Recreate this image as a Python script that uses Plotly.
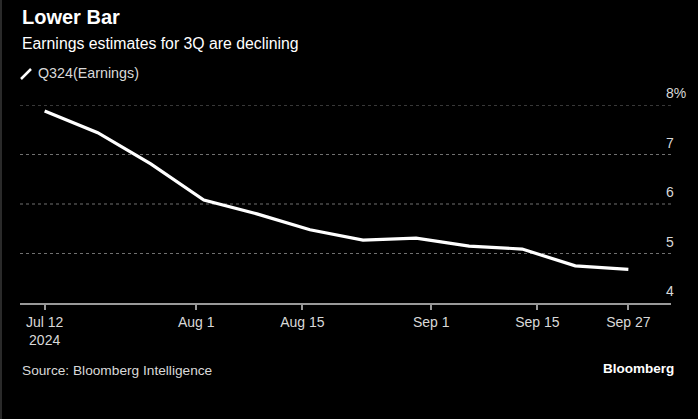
import plotly.graph_objects as go

dates = ["2024-07-12", "2024-07-19", "2024-07-26", "2024-08-02", "2024-08-09", "2024-08-16",
         "2024-08-23", "2024-08-30", "2024-09-06", "2024-09-13", "2024-09-20", "2024-09-27"]
earnings = [7.88, 7.44, 6.81, 6.08, 5.80, 5.48, 5.27, 5.31, 5.15, 5.09, 4.75, 4.68]

x_tickvals = ["2024-07-12", "2024-08-01", "2024-08-15", "2024-09-01", "2024-09-15", "2024-09-27"]
x_ticktext = ["Jul 12<br>2024", "Aug 1", "Aug 15", "Sep 1", "Sep 15", "Sep 27"]
y_tickvals = [4, 5, 6, 7, 8]
y_ticktext = ["4", "5", "6", "7", "8%"]

FONT = "Liberation Sans"
GREY = "#d9d9d9"
W, H = 698, 419
ML, MR, MT, MB = 20, 27, 105, 116


def paper_xy(px, py):
    # pixel position on the page -> paper coordinates
    return (px - ML) / (W - ML - MR), (H - MB - py) / (H - MT - MB)


fig = go.Figure()
fig.add_trace(go.Scatter(x=dates, y=earnings, mode="lines", name="Q324(Earnings)",
                         line=dict(color="white", width=3.2), showlegend=False))

# dotted gridlines (not at the baseline)
for v in y_tickvals[1:]:
    fig.add_shape(type="line", xref="paper", x0=0, x1=1, yref="y", y0=v, y1=v,
                  line=dict(color="#707070", width=1, dash="dot"), layer="below")

# y labels on the right, sitting above the gridlines
for v, t in zip(y_tickvals, y_ticktext):
    fig.add_annotation(x=1, xref="paper", xanchor="left", xshift=-7, y=v, yref="y",
                       yanchor="bottom", yshift=2, text=t, showarrow=False,
                       font=dict(family=FONT, size=14, color=GREY))

fig.update_layout(
    width=W, height=H,
    paper_bgcolor="black", plot_bgcolor="black",
    margin=dict(l=ML, r=MR, t=MT, b=MB),
    font=dict(family=FONT, color=GREY),
    xaxis=dict(type="date", range=["2024-07-08 18:00", "2024-10-02 15:00"],
               tickvals=x_tickvals, ticktext=x_ticktext, showgrid=False, zeroline=False,
               showline=True, linecolor="#999999", linewidth=1.5,
               ticks="outside", ticklen=5, tickcolor="#999999", tickwidth=1.5,
               tickfont=dict(family=FONT, size=14, color=GREY)),
    yaxis=dict(range=[4, 8], showgrid=False, zeroline=False, showticklabels=False,
               fixedrange=True),
)

# title, subtitle, legend, footer
ax, ay = paper_xy(20, 17)
fig.add_annotation(x=ax, y=ay, xref="paper", yref="paper", text="<b>Lower Bar</b>",
                   showarrow=False, xanchor="left", yanchor="middle",
                   font=dict(family=FONT, size=20, color="white"))
ax, ay = paper_xy(20, 44)
fig.add_annotation(x=ax, y=ay, xref="paper", yref="paper",
                   text="Earnings estimates for 3Q are declining",
                   showarrow=False, xanchor="left", yanchor="middle",
                   font=dict(family=FONT, size=15.8, color="white"))
lx0, ly0 = paper_xy(21, 79)
lx1, ly1 = paper_xy(31, 69)
fig.add_shape(type="line", xref="paper", yref="paper", x0=lx0, y0=ly0, x1=lx1, y1=ly1,
              line=dict(color="white", width=2.5))
ax, ay = paper_xy(36, 73)
fig.add_annotation(x=ax, y=ay, xref="paper", yref="paper", text="Q324(Earnings)",
                   showarrow=False, xanchor="left", yanchor="middle",
                   font=dict(family=FONT, size=14.3, color=GREY))
ax, ay = paper_xy(20, 370)
fig.add_annotation(x=ax, y=ay, xref="paper", yref="paper",
                   text="Source: Bloomberg Intelligence",
                   showarrow=False, xanchor="left", yanchor="middle",
                   font=dict(family=FONT, size=13.7, color=GREY))
ax, ay = paper_xy(676, 368)
fig.add_annotation(x=ax, y=ay, xref="paper", yref="paper", text="<b>Bloomberg</b>",
                   showarrow=False, xanchor="right", yanchor="middle",
                   font=dict(family=FONT, size=13.5, color="white"))
# thin frame line on the left edge
bx, _ = paper_xy(1, 0)
fig.add_shape(type="line", xref="paper", yref="paper", x0=bx, x1=bx,
              y0=paper_xy(0, H)[1], y1=paper_xy(0, 0)[1],
              line=dict(color="#555555", width=1))

fig.write_html("out.html", config={"displayModeBar": False},
               post_script="document.body.style.margin='0';document.body.style.overflow='hidden';")
